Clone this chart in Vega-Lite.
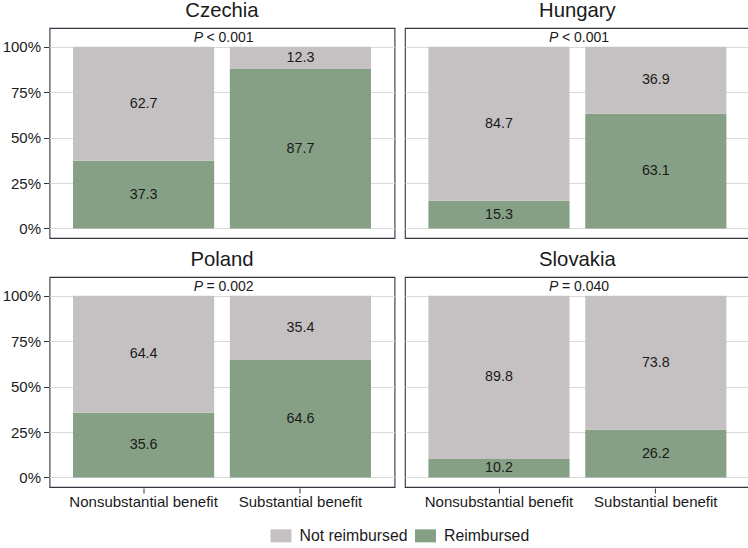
{
  "$schema": "https://vega.github.io/schema/vega-lite/v6.json",
  "padding": {"left": 1.5, "top": 0, "right": 1, "bottom": 0},
  "data": {
    "values": [
      {"country": "Czechia", "benefit": "Nonsubstantial benefit", "status": "Reimbursed", "pct": 37.3, "p": "< 0.001"},
      {"country": "Czechia", "benefit": "Nonsubstantial benefit", "status": "Not reimbursed", "pct": 62.7, "p": "< 0.001"},
      {"country": "Czechia", "benefit": "Substantial benefit", "status": "Reimbursed", "pct": 87.7, "p": "< 0.001"},
      {"country": "Czechia", "benefit": "Substantial benefit", "status": "Not reimbursed", "pct": 12.3, "p": "< 0.001"},
      {"country": "Hungary", "benefit": "Nonsubstantial benefit", "status": "Reimbursed", "pct": 15.3, "p": "< 0.001"},
      {"country": "Hungary", "benefit": "Nonsubstantial benefit", "status": "Not reimbursed", "pct": 84.7, "p": "< 0.001"},
      {"country": "Hungary", "benefit": "Substantial benefit", "status": "Reimbursed", "pct": 63.1, "p": "< 0.001"},
      {"country": "Hungary", "benefit": "Substantial benefit", "status": "Not reimbursed", "pct": 36.9, "p": "< 0.001"},
      {"country": "Poland", "benefit": "Nonsubstantial benefit", "status": "Reimbursed", "pct": 35.6, "p": "= 0.002"},
      {"country": "Poland", "benefit": "Nonsubstantial benefit", "status": "Not reimbursed", "pct": 64.4, "p": "= 0.002"},
      {"country": "Poland", "benefit": "Substantial benefit", "status": "Reimbursed", "pct": 64.6, "p": "= 0.002"},
      {"country": "Poland", "benefit": "Substantial benefit", "status": "Not reimbursed", "pct": 35.4, "p": "= 0.002"},
      {"country": "Slovakia", "benefit": "Nonsubstantial benefit", "status": "Reimbursed", "pct": 10.2, "p": "= 0.040"},
      {"country": "Slovakia", "benefit": "Nonsubstantial benefit", "status": "Not reimbursed", "pct": 89.8, "p": "= 0.040"},
      {"country": "Slovakia", "benefit": "Substantial benefit", "status": "Reimbursed", "pct": 26.2, "p": "= 0.040"},
      {"country": "Slovakia", "benefit": "Substantial benefit", "status": "Not reimbursed", "pct": 73.8, "p": "= 0.040"}
    ]
  },
  "facet": {
    "field": "country",
    "type": "nominal",
    "header": {
      "title": null,
      "labelFontSize": 20.3,
      "labelColor": "#1a1a1a",
      "labelFont": "Liberation Sans",
      "labelPadding": -13,
      "labelBaseline": "bottom"
    }
  },
  "columns": 2,
  "spacing": {"column": 8.4, "row": 10},
  "spec": {
    "width": 345,
    "height": 210,
    "layer": [
      {
        "transform": [
          {"stack": "pct", "groupby": ["country", "benefit"], "sort": [{"field": "status", "order": "descending"}], "as": ["y0", "y1"]},
          {"calculate": "(datum.y0 + datum.y1) / 2", "as": "mid"}
        ],
        "layer": [
          {
            "mark": {"type": "bar"},
            "encoding": {
              "x": {"field": "benefit", "type": "nominal", "title": null,
                "scale": {"paddingInner": 0.1, "paddingOuter": 0.15},
                "axis": {"labelAngle": 0, "tickSize": 5, "labelPadding": 1, "domain": false, "grid": false}},
              "y": {"field": "y0", "type": "quantitative", "title": null,
                "scale": {"domain": [-5.25, 110.25], "nice": false, "zero": false},
                "axis": {"values": [0, 25, 50, 75, 100], "labelExpr": "datum.value + '%'", "tickSize": 5, "labelPadding": 3, "domain": false, "grid": true}},
              "y2": {"field": "y1"},
              "color": {"field": "status", "type": "nominal",
                "scale": {"domain": ["Not reimbursed", "Reimbursed"], "range": ["#C5C1C2", "#85A084"]},
                "legend": {"title": null, "orient": "none", "direction": "horizontal", "legendX": 221, "legendY": 497}}
            }
          },
          {
            "mark": {"type": "text", "fontSize": 14.3, "color": "#1a1a1a", "font": "Liberation Sans"},
            "encoding": {
              "x": {"field": "benefit", "type": "nominal"},
              "y": {"field": "mid", "type": "quantitative"},
              "text": {"field": "pct", "type": "quantitative", "format": ".1f"}
            }
          }
        ]
      },
      {
        "transform": [{"filter": "datum.status === 'Reimbursed' && datum.benefit === 'Nonsubstantial benefit'"}],
        "layer": [
          {
            "mark": {"type": "text", "fontSize": 14, "color": "#1a1a1a", "font": "Liberation Sans", "fontStyle": "italic", "align": "right", "dx": -19},
            "encoding": {"y": {"datum": 105, "type": "quantitative"}, "text": {"value": "P"}}
          },
          {
            "mark": {"type": "text", "fontSize": 14, "color": "#1a1a1a", "font": "Liberation Sans", "align": "left", "dx": -15.5},
            "encoding": {"y": {"datum": 105, "type": "quantitative"}, "text": {"field": "p"}}
          }
        ]
      }
    ]
  },
  "config": {
    "font": "Liberation Sans",
    "view": {"stroke": "#30363f", "strokeWidth": 1.1},
    "axis": {
      "labelFontSize": 15,
      "labelColor": "#1a1a1a",
      "labelFont": "Liberation Sans",
      "tickColor": "#333333",
      "gridColor": "#D9D9D9",
      "gridWidth": 1.2
    },
    "legend": {
      "labelFontSize": 15.8,
      "labelColor": "#1a1a1a",
      "labelFont": "Liberation Sans",
      "symbolType": "M-1,-0.62H1V0.62H-1Z",
      "symbolSize": 441,
      "symbolStrokeWidth": 0,
      "symbolOpacity": 1,
      "labelOffset": 8,
      "columnPadding": 7.5
    }
  }
}
